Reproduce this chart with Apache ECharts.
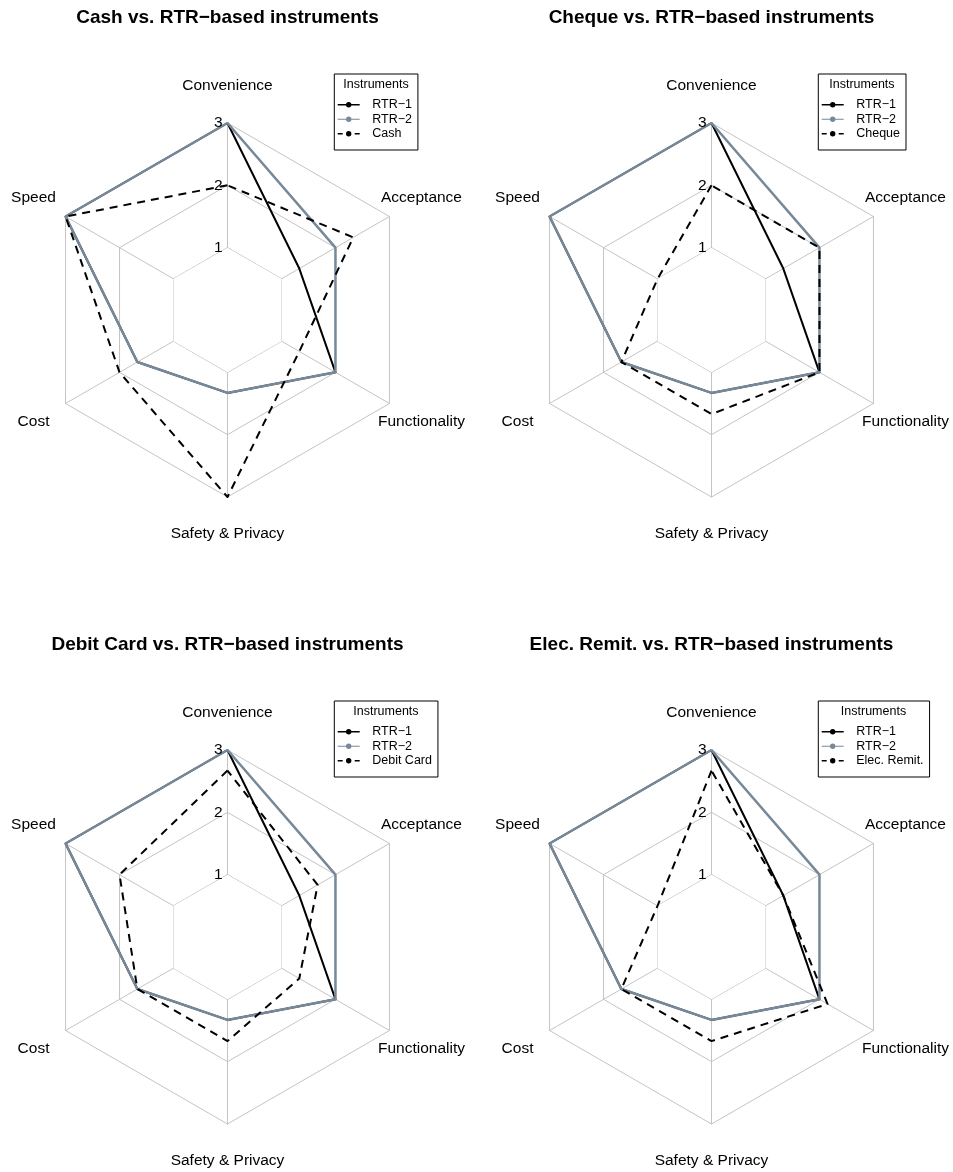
<!DOCTYPE html>
<html>
<head>
<meta charset="utf-8">
<script src="https://cdn.jsdelivr.net/npm/echarts@6/dist/echarts.min.js"></script>
<style>
  html, body { margin: 0; padding: 0; background: #fff; }
  #main { width: 953px; height: 1172px; }
</style>
</head>
<body>
<div id="main"></div>
<script>
// indicators in echarts order (counter-clockwise starting at the top)
var axes = ['Convenience', 'Speed', 'Cost', 'Safety & Privacy', 'Functionality', 'Acceptance'];
var axisMin = 0;
var axisMax = 3;
var tickLabels = ['', '1', '2', '3'];

// RTR-based instruments, same in every panel
var rtr1 = [3, 3, 1.67, 1.33, 2, 1.33];
var rtr2 = [3, 3, 1.67, 1.33, 2, 2];

// the instrument compared in each panel
var others = ['Cash', 'Cheque', 'Debit Card', 'Elec. Remit.'];
var cash = [2, 3, 2, 3, 1.33, 2.33];
var cheque = [2, 1, 1.67, 1.67, 2, 2];
var debitCard = [2.67, 2, 1.67, 1.67, 1.33, 1.67];
var elecRemit = [2.67, 1, 1.67, 1.67, 2.15, 1.33];
var otherValues = [cash, cheque, debitCard, elecRemit];

// blank ring in the middle (grid spokes start at 1)
var innerRing = [1, 1, 1, 1, 1, 1];

var FONT = '"Liberation Sans", Arial, Helvetica, sans-serif';
var GRID = '#c4c4c4';
var GREY = '#778899';

// layout of the 4 panels
var centers = [[227.5, 310], [711.5, 310], [227.5, 937], [711.5, 937]];
var R = 187;
var legendTitleDx = [148.5, 150.4, 158.4, 162];   // centre of the legend box from panel centre

// legend keys: line with a dot (drawn clockwise so the dot stays filled)
var dot = 'M8.3,3A2.7,2.7 0 1,1 13.7,3A2.7,2.7 0 1,1 8.3,3Z';
var solidIcon = 'path://M0,2.3H22V3.7H0Z ' + dot;
var greyIcon = 'path://M0,2.4H22V3.6H0Z ' + dot;
var dashIcon = 'path://M0,2.3H5V3.7H0Z M17,2.3H22V3.7H17Z ' + dot;

var chart = echarts.init(document.getElementById('main'), null, { renderer: 'canvas' });

var radars = [], series = [], titles = [], legends = [];

centers.forEach(function (c, i) {
  var indicator = axes.map(function (a) { return { name: a, min: axisMin, max: axisMax }; });
  // grid + axis names
  radars.push({
    center: c, radius: R, startAngle: 90, splitNumber: 3, shape: 'polygon', z: 1,
    indicator: indicator,
    axisName: { show: true, color: '#000', fontFamily: FONT, fontSize: 15.5, align: 'center', verticalAlign: 'middle' },
    nameGap: 37,
    axisLine: { show: true, lineStyle: { color: GRID, width: 1 } },
    splitLine: { show: true, lineStyle: { color: GRID, width: 1 } },
    splitArea: { show: false },
    axisTick: { show: false },
    axisLabel: { show: false }
  });
});
// a second radar on top of each panel, only for the 1/2/3 labels on the Convenience axis
centers.forEach(function (c, i) {
  var indicator = axes.map(function (a, k) {
    var o = { name: a, min: axisMin, max: axisMax };
    if (k === 0) o.axisLabel = { show: true };
    return o;
  });
  radars.push({
    center: c, radius: R, startAngle: 90, splitNumber: 3, shape: 'polygon', z: 10,
    indicator: indicator,
    axisName: { show: false },
    axisLine: { show: false },
    splitLine: { show: false },
    splitArea: { show: false },
    axisTick: { show: false },
    axisLabel: {
      show: false, margin: 5, color: '#000', fontFamily: FONT, fontSize: 15.5,
      formatter: function (v) { return tickLabels[Math.round(v)]; }
    }
  });
});

centers.forEach(function (c, i) {
  series.push({
    type: 'radar', radarIndex: i, z: 3, silent: true, symbol: 'none',
    data: [{
      name: 'inner', value: innerRing,
      lineStyle: { color: GRID, width: 1 },
      areaStyle: { color: '#fff', opacity: 1 }
    }]
  });
  series.push({
    type: 'radar', radarIndex: i, z: 4, silent: true, symbol: 'none',
    data: [
      { name: 'RTR−1', value: rtr1, itemStyle: { color: '#000' }, lineStyle: { color: '#000', width: 2 } },
      { name: 'RTR−2', value: rtr2, itemStyle: { color: GREY }, lineStyle: { color: GREY, width: 2.5 } },
      { name: others[i], value: otherValues[i], itemStyle: { color: '#000' },
        lineStyle: { color: '#000', width: 2, type: [8, 6] } }
    ]
  });

  titles.push({
    text: others[i] + ' vs. RTR−based instruments',
    left: c[0], top: c[1] - 302, textAlign: 'center', padding: 0,
    textStyle: { fontFamily: FONT, fontSize: 19, fontWeight: 'bold', color: '#000' }
  });
  titles.push({
    text: 'Instruments',
    left: c[0] + legendTitleDx[i], top: c[1] - 232, textAlign: 'center', padding: 0,
    textStyle: { fontFamily: FONT, fontSize: 12.5, fontWeight: 'normal', color: '#000' }
  });

  legends.push({
    orient: 'vertical', left: c[0] + 106.8, top: c[1] - 236,
    selectedMode: false,
    borderColor: '#000', borderWidth: 1, borderRadius: 0,
    padding: [23.5, 6, 9, 3.4],
    itemWidth: 23, itemHeight: 5.4, itemGap: 0,
    itemStyle: { borderWidth: 0 },
    textStyle: { fontFamily: FONT, fontSize: 12.5, lineHeight: 14.5, color: '#000', padding: [0, 0, 0, 7] },
    data: [
      { name: 'RTR−1', icon: solidIcon, itemStyle: { color: '#000' } },
      { name: 'RTR−2', icon: greyIcon, itemStyle: { color: GREY } },
      { name: others[i], icon: dashIcon, itemStyle: { color: '#000' } }
    ]
  });
});

chart.setOption({
  backgroundColor: '#fff',
  animation: false,
  title: titles,
  legend: legends,
  radar: radars,
  series: series
});
</script>
</body>
</html>
